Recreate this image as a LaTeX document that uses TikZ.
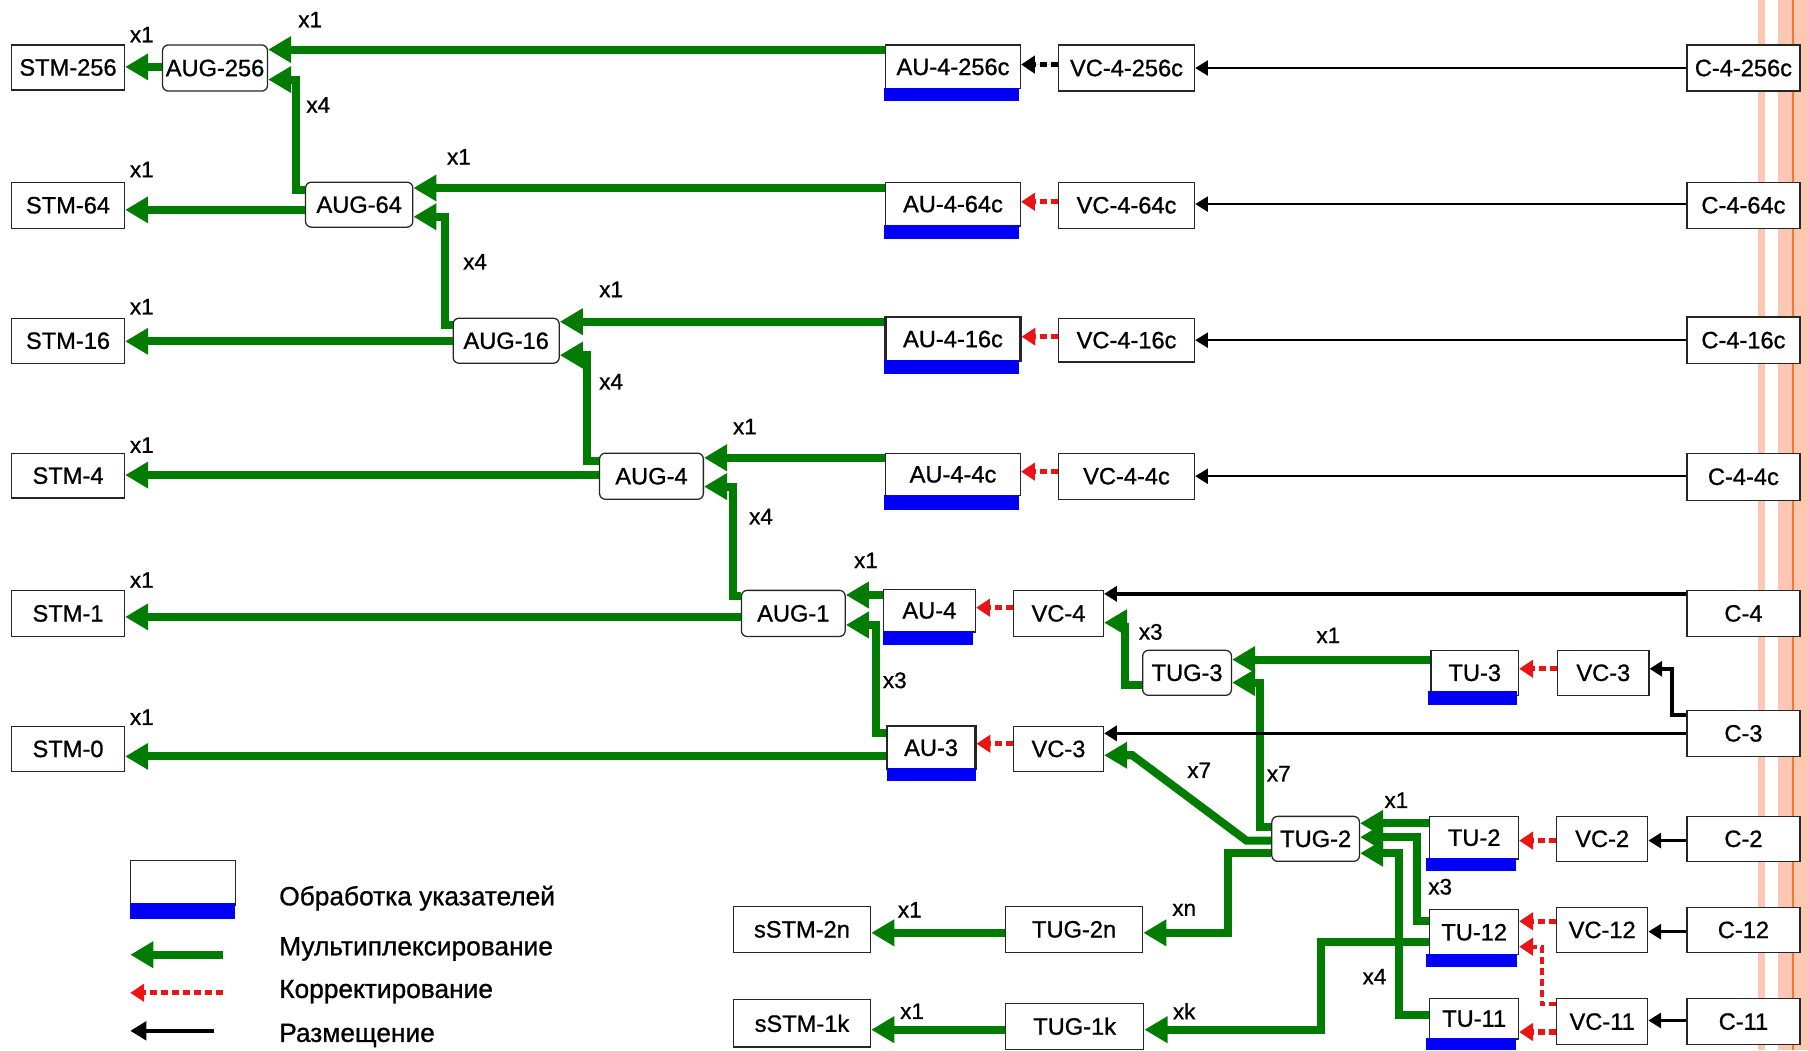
\documentclass[tikz,border=0pt]{standalone}
\usepackage{fontspec}
\setmainfont{Liberation Sans}
\newfontfamily\medfont{Liberation Sans}[RawFeature={embolden=0.9}]
\usetikzlibrary{arrows.meta}
\definecolor{muxgreen}{RGB}{0,125,0}
\definecolor{ptrblue}{RGB}{0,0,250}
\definecolor{corrred}{RGB}{235,20,20}
\definecolor{stripe}{RGB}{252,200,180}
\definecolor{stripeline}{RGB}{245,120,50}
\newcommand\mkbox[7]{\node[#1, minimum width={#5-#3}, minimum height={#6-#4}] (#2) at ({(#3+#5)/2},{(#4+#6)/2}) {#7};}
\begin{document}
\begin{tikzpicture}[x=1pt,y=-1pt,
 box/.style={draw=black!85, line width=1.1pt, fill=white, inner sep=1pt, font=\medfont\fontsize{20.5}{24}\selectfont},
 rbox/.style={box, rounded corners=5pt},
 mux/.style={draw=muxgreen, line width=7pt, -{Triangle[length=20pt,width=22pt]}},
 corr/.style={draw=corrred, line width=4.5pt, dash pattern=on 6pt off 3.5pt, -{Triangle[length=12pt,width=15pt]}},
 corrk/.style={corr, draw=black, fill=black},
 mapk/.style={draw=black, line width=2.5pt, -{Triangle[length=11pt,width=13pt]}},
 lbl/.style={font=\medfont\fontsize{19.5}{22}\selectfont, inner sep=0pt},
 legtxt/.style={font=\medfont\fontsize{22.8}{26}\selectfont, inner sep=0pt, anchor=west},
 ptr/.style={fill=ptrblue},
]
\useasboundingbox (0,0) rectangle (1568,911);
\fill[white] (0,0) rectangle (1568,911);
% right-hand stripes
\fill[stripe] (1525,0) rectangle (1531,911);
\fill[stripe] (1542,0) rectangle (1568,911);
\draw[stripeline, line width=1.5pt] (1555,0) -- (1555,911);

% STM column
\mkbox{box}{stm256}{10}{39}{108}{78}{STM-256}
\mkbox{box}{stm64}{10}{158}{108}{198}{STM-64}
\mkbox{box}{stm16}{10}{276}{108}{315}{STM-16}
\mkbox{box}{stm4}{10}{393}{108}{432}{STM-4}
\mkbox{box}{stm1}{10}{512}{108}{552}{STM-1}
\mkbox{box}{stm0}{10}{630}{108}{669}{STM-0}
% AUG
\mkbox{rbox}{aug256}{141}{39}{232}{79}{AUG-256}
\mkbox{rbox}{aug64}{265}{158}{358}{197}{AUG-64}
\mkbox{rbox}{aug16}{393}{276}{485}{315}{AUG-16}
\mkbox{rbox}{aug4}{520}{393}{610}{433}{AUG-4}
\mkbox{rbox}{aug1}{643}{512}{733}{552}{AUG-1}
% AU
\mkbox{box}{au4256}{768}{39}{885}{77}{AU-4-256c}
\mkbox{box}{au464}{768}{158}{885}{196}{AU-4-64c}
\mkbox{box, line width=2pt}{au416}{768}{275}{885}{313}{AU-4-16c}
\mkbox{box}{au44}{768}{393}{885}{430}{AU-4-4c}
\mkbox{box}{au4}{766}{511}{846}{548}{AU-4}
\mkbox{box, line width=1.8pt}{au3}{769}{630}{846}{667}{AU-3}
% VC
\mkbox{box}{vc4256}{918}{39}{1036}{79}{VC-4-256c}
\mkbox{box}{vc464}{918}{158}{1036}{198}{VC-4-64c}
\mkbox{box}{vc416}{918}{276}{1036}{314}{VC-4-16c}
\mkbox{box}{vc44}{918}{393}{1036}{433}{VC-4-4c}
\mkbox{box}{vc4}{879}{512}{957}{552}{VC-4}
\mkbox{box}{vc3l}{879}{630}{957}{669}{VC-3}
% C
\mkbox{box}{c4256}{1463}{39}{1561}{79}{C-4-256c}
\mkbox{box}{c464}{1463}{158}{1561}{198}{C-4-64c}
\mkbox{box}{c416}{1463}{275}{1561}{315}{C-4-16c}
\mkbox{box}{c44}{1463}{393}{1561}{434}{C-4-4c}
\mkbox{box}{c4}{1463}{512}{1561}{552}{C-4}
\mkbox{box}{c3}{1463}{616}{1561}{656}{C-3}
% TU branch
\mkbox{rbox}{tug3}{991}{564}{1068}{603}{TUG-3}
\mkbox{box}{tu3}{1241}{564}{1317}{603}{TU-3}
\mkbox{box}{vc3u}{1351}{564}{1430}{603}{VC-3}
\mkbox{rbox}{tug2}{1103}{708}{1179}{747}{TUG-2}
\mkbox{box}{tu2}{1240}{708}{1317}{745}{TU-2}
\mkbox{box}{vc2}{1350}{708}{1429}{747}{VC-2}
\mkbox{box}{c2}{1463}{708}{1561}{747}{C-2}
\mkbox{box}{tu12}{1240}{789}{1317}{828}{TU-12}
\mkbox{box}{vc12}{1350}{787}{1429}{826}{VC-12}
\mkbox{box}{c12}{1463}{787}{1561}{826}{C-12}
\mkbox{box}{tu11}{1240}{866}{1317}{901}{TU-11}
\mkbox{box}{vc11}{1350}{866}{1429}{906}{VC-11}
\mkbox{box}{c11}{1463}{866}{1561}{906}{C-11}
\mkbox{box}{tug2n}{872}{786}{991}{826}{TUG-2n}
\mkbox{box}{tug1k}{872}{870}{992}{910}{TUG-1k}
\mkbox{box}{sstm2n}{636}{786}{755}{826}{sSTM-2n}
\mkbox{box}{sstm1k}{636}{867}{755}{908}{sSTM-1k}

% pointer-processing bars
\fill[ptr] (767,76) rectangle (884,88);
\fill[ptr] (767,195) rectangle (884,207);
\fill[ptr] (767,312) rectangle (884,324);
\fill[ptr] (767,429) rectangle (884,442);
\fill[ptr] (766,547) rectangle (844,559);
\fill[ptr] (769,666) rectangle (846,677);
\fill[ptr] (1238,599) rectangle (1316,611);
\fill[ptr] (1237,744) rectangle (1315,755);
\fill[ptr] (1237,827) rectangle (1316,839);
\fill[ptr] (1237,900) rectangle (1315,911);

% multiplexing (green)
\draw[mux] (aug256.west |- 0,58) -- (stm256.east |- 0,58);
\draw[mux] (au4256.west |- 0,43) -- (aug256.east |- 0,43);
\draw[mux] (aug64.west |- 0,165) -- (257,165) -- (257,69) -- (aug256.east |- 0,69);
\draw[mux] (aug64.west |- 0,182) -- (stm64.east |- 0,182);
\draw[mux] (au464.west |- 0,163) -- (aug64.east |- 0,163);
\draw[mux] (aug16.west |- 0,282) -- (386,282) -- (386,188) -- (aug64.east |- 0,188);
\draw[mux] (aug16.west |- 0,296) -- (stm16.east |- 0,296);
\draw[mux] (au416.west |- 0,279) -- (aug16.east |- 0,279);
\draw[mux] (aug4.west |- 0,400) -- (509,400) -- (509,308) -- (aug16.east |- 0,308);
\draw[mux] (aug4.west |- 0,412) -- (stm4.east |- 0,412);
\draw[mux] (au44.west |- 0,397) -- (aug4.east |- 0,397);
\draw[mux] (aug1.west |- 0,517) -- (636,517) -- (636,422) -- (aug4.east |- 0,422);
\draw[mux] (aug1.west |- 0,535) -- (stm1.east |- 0,535);
\draw[mux] (au4.west |- 0,516) -- (aug1.east |- 0,516);
\draw[mux] (au3.west |- 0,636) -- (760,636) -- (760,542) -- (aug1.east |- 0,542);
\draw[mux] (au3.west |- 0,656) -- (stm0.east |- 0,656);
\draw[mux] (tug3.west |- 0,594) -- (976,594) -- (976,540) -- (vc4.east |- 0,540);
\draw[mux] (tu3.west |- 0,572) -- (tug3.east |- 0,572);
\draw[mux] (tug2.west |- 0,717) -- (1093,717) -- (1093,592) -- (tug3.east |- 0,592);
\draw[mux] (tug2.west |- 0,729) -- (1081,729) -- (982,655) -- (vc3l.east |- 0,655);
\draw[mux] (tug2.west |- 0,740) -- (1065,740) -- (1065,809) -- (tug2n.east |- 0,809);
\draw[mux] (tug2n.west |- 0,809) -- (sstm2n.east |- 0,809);
\draw[mux] (tu12.west |- 0,817) -- (1146,817) -- (1146,893) -- (tug1k.east |- 0,893);
\draw[mux] (tug1k.west |- 0,893) -- (sstm1k.east |- 0,893);
\draw[mux] (tu2.west |- 0,714) -- (tug2.east |- 0,714);
\draw[mux] (tu12.west |- 0,799) -- (1229,799) -- (1229,726) -- (tug2.east |- 0,726);
\draw[mux] (tu11.west |- 0,880) -- (1213,880) -- (1213,740) -- (tug2.east |- 0,740);

% correction (dashed)
\draw[corrk] (vc4256.west |- 0,56) -- (au4256.east |- 0,56);
\draw[corr] (vc464.west |- 0,175) -- (au464.east |- 0,175);
\draw[corr] (vc416.west |- 0,292) -- (au416.east |- 0,292);
\draw[corr] (vc44.west |- 0,409) -- (au44.east |- 0,409);
\draw[corr] (vc4.west |- 0,527) -- (au4.east |- 0,527);
\draw[corr] (vc3l.west |- 0,645) -- (au3.east |- 0,645);
\draw[corr] (vc3u.west |- 0,580) -- (tu3.east |- 0,580);
\draw[corr] (vc2.west |- 0,729) -- (tu2.east |- 0,729);
\draw[corr] (vc12.west |- 0,799) -- (tu12.east |- 0,799);
\draw[corr, line width=3.5pt] (vc11.west |- 0,871) -- (1337,871) -- (1337,821) -- (tu12.east |- 0,821);
\draw[corr] (vc11.west |- 0,895) -- (tu11.east |- 0,895);

% mapping (black)
\draw[mapk, line width=2pt] (c4256.west |- 0,59) -- (vc4256.east |- 0,59);
\draw[mapk, line width=2pt] (c464.west |- 0,177) -- (vc464.east |- 0,177);
\draw[mapk, line width=2pt] (c416.west |- 0,295) -- (vc416.east |- 0,295);
\draw[mapk, line width=2pt] (c44.west |- 0,413) -- (vc44.east |- 0,413);
\draw[mapk, line width=3pt] (c4.west |- 0,515) -- (vc4.east |- 0,515);
\draw[mapk, line width=3pt] (c3.west |- 0,636) -- (vc3l.east |- 0,636);
\draw[mapk, line width=3pt] (c3.west |- 0,620) -- (1450,620) -- (1450,580) -- (vc3u.east |- 0,580);
\draw[mapk] (c2.west |- 0,729) -- (vc2.east |- 0,729);
\draw[mapk] (c12.west |- 0,808) -- (vc12.east |- 0,808);
\draw[mapk] (c11.west |- 0,885) -- (vc11.east |- 0,885);

% multiplicity labels
\node[lbl] (m1) at (123,30) {x1};
\node[lbl] (m2) at (269,17) {x1};
\node[lbl] (m3) at (276,91) {x4};
\node[lbl] (m4) at (123,147) {x1};
\node[lbl] (m5) at (398,136) {x1};
\node[lbl] (m6) at (412,227) {x4};
\node[lbl] (m7) at (123,266) {x1};
\node[lbl] (m8) at (530,251) {x1};
\node[lbl] (m9) at (530,331) {x4};
\node[lbl] (m10) at (123,386) {x1};
\node[lbl] (m11) at (646,370) {x1};
\node[lbl] (m12) at (660,448) {x4};
\node[lbl] (m13) at (123,503) {x1};
\node[lbl] (m14) at (751,486) {x1};
\node[lbl] (m15) at (776,590) {x3};
\node[lbl] (m16) at (123,622) {x1};
\node[lbl] (m17) at (998,548) {x3};
\node[lbl] (m18) at (1152,551) {x1};
\node[lbl] (m19) at (1040,668) {x7};
\node[lbl] (m20) at (1109,671) {x7};
\node[lbl] (m21) at (1211,694) {x1};
\node[lbl] (m22) at (1249,769) {x3};
\node[lbl] (m23) at (1192,847) {x4};
\node[lbl] (m24) at (789,789) {x1};
\node[lbl] (m25) at (1027,789) {xn};
\node[lbl] (m26) at (791,877) {x1};
\node[lbl] (m27) at (1027,877) {xk};

% legend
\mkbox{box}{legbox}{113}{746}{204}{785}{}
\fill[ptr] (113,783) rectangle (204,797);
\coordinate (lga) at (193,828);
\coordinate (lgb) at (113,828);
\coordinate (lgc) at (193,861);
\coordinate (lgd) at (113,861);
\coordinate (lge) at (186,894);
\coordinate (lgf) at (113,894);
\draw[mux] (lga) -- (lgb);
\draw[corr] (lgc) -- (lgd);
\draw[mapk, line width=3.5pt, -{Triangle[length=14pt,width=16pt]}] (lge) -- (lgf);
\node[legtxt] (lt1) at (242,779) {Обработка указателей};
\node[legtxt] (lt2) at (242,823) {Мультиплексирование};
\node[legtxt] (lt3) at (242,860) {Корректирование};
\node[legtxt] (lt4) at (242,898) {Размещение};
\end{tikzpicture}
\end{document}
